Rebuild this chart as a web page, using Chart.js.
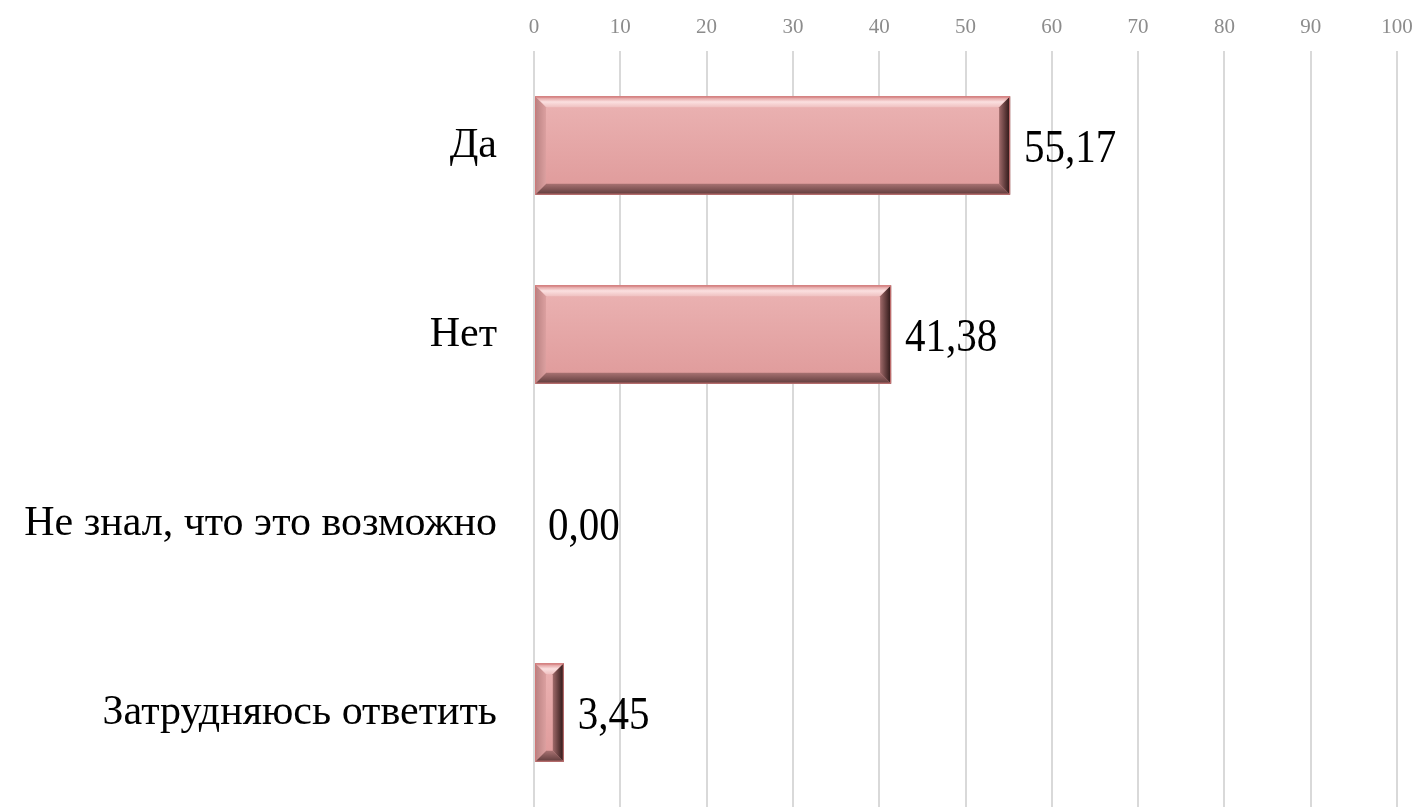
<!DOCTYPE html>
<html>
<head>
<meta charset="utf-8">
<script src="https://cdn.jsdelivr.net/npm/chart.js@4/dist/chart.umd.min.js"></script>
<style>
  html, body { margin: 0; padding: 0; background: #fff; }
  #wrap { width: 1419px; height: 807px; }
</style>
</head>
<body>
<div id="wrap"><canvas id="barChart"></canvas></div>
<script>
// ответы и проценты
var answers = ["Да", "Нет", "Не знал, что это возможно", "Затрудняюсь ответить"];
var percents = [55.17, 41.38, 0.00, 3.45];
var xTicks = [0, 10, 20, 30, 40, 50, 60, 70, 80, 90, 100];

var serif = "'Liberation Serif', 'Times New Roman', serif";

// объемная рамка у столбцов
var bevelPlugin = {
  id: 'bevel',
  afterDatasetsDraw: function (chart) {
    var ctx = chart.ctx;
    var meta = chart.getDatasetMeta(0);
    meta.data.forEach(function (bar) {
      var p = bar.getProps(['x', 'y', 'base', 'height'], true);
      var x0 = Math.min(p.base, p.x), x1 = Math.max(p.base, p.x);
      var y0 = p.y - p.height / 2, y1 = p.y + p.height / 2;
      if (x1 - x0 < 1) return;
      var b = Math.min(11, (x1 - x0) / 2, (y1 - y0) / 2);
      ctx.save();
      var g = ctx.createLinearGradient(0, y0, 0, y1);
      g.addColorStop(0, '#ebb3b3');
      g.addColorStop(1, '#df9a9a');
      ctx.fillStyle = g;
      ctx.fillRect(x0, y0, x1 - x0, y1 - y0);
      function quad(c, pts) {
        ctx.fillStyle = c;
        ctx.beginPath();
        ctx.moveTo(pts[0], pts[1]);
        ctx.lineTo(pts[2], pts[3]);
        ctx.lineTo(pts[4], pts[5]);
        ctx.lineTo(pts[6], pts[7]);
        ctx.closePath();
        ctx.fill();
      }
      var gt = ctx.createLinearGradient(0, y0, 0, y0 + b);
      gt.addColorStop(0, '#d98a8a');
      gt.addColorStop(0.5, '#fbe0e0');
      gt.addColorStop(1, '#efc0c0');
      quad(gt, [x0, y0, x1, y0, x1 - b, y0 + b, x0 + b, y0 + b]);
      var gb = ctx.createLinearGradient(0, y1 - b, 0, y1);
      gb.addColorStop(0, '#a87272');
      gb.addColorStop(1, '#5e3a3a');
      quad(gb, [x0, y1, x1, y1, x1 - b, y1 - b, x0 + b, y1 - b]);
      var gl = ctx.createLinearGradient(x0, 0, x0 + b, 0);
      gl.addColorStop(0, '#b88080');
      gl.addColorStop(1, '#dca0a0');
      quad(gl, [x0, y0, x0 + b, y0 + b, x0 + b, y1 - b, x0, y1]);
      var gr = ctx.createLinearGradient(x1 - b, 0, x1, 0);
      gr.addColorStop(0, '#a06a6a');
      gr.addColorStop(1, '#2a1414');
      quad(gr, [x1, y0, x1 - b, y0 + b, x1 - b, y1 - b, x1, y1]);
      ctx.strokeStyle = '#d07878';
      ctx.lineWidth = 1;
      ctx.strokeRect(x0 + 0.5, y0 + 0.5, x1 - x0 - 1, y1 - y0 - 1);
      ctx.restore();
    });
  }
};

// подписи значений справа от столбцов (чуть вытянуты по вертикали)
var valueLabels = {
  id: 'valueLabels',
  afterDatasetsDraw: function (chart) {
    var ctx = chart.ctx;
    var meta = chart.getDatasetMeta(0);
    var stretch = 1.12;
    meta.data.forEach(function (bar, i) {
      var v = percents[i].toFixed(2).replace('.', ',');
      ctx.save();
      ctx.font = '41px ' + serif;
      ctx.fillStyle = '#000';
      ctx.textAlign = 'left';
      ctx.textBaseline = 'alphabetic';
      ctx.translate(bar.x + 14, bar.y + 16);
      ctx.scale(1, stretch);
      ctx.fillText(v, 0, 0);
      ctx.restore();
    });
  }
};

new Chart(document.getElementById('barChart'), {
  type: 'bar',
  data: {
    labels: answers,
    datasets: [{
      data: percents,
      backgroundColor: '#e4a6a6',
      borderWidth: 0,
      categoryPercentage: 1,
      barPercentage: 0.52
    }]
  },
  options: {
    indexAxis: 'y',
    responsive: true,
    maintainAspectRatio: false,
    animation: false,
    layout: { padding: { left: 0, right: 22, top: 0, bottom: 0 } },
    plugins: {
      legend: { display: false },
      tooltip: { enabled: false }
    },
    scales: {
      x: {
        position: 'top',
        min: 0,
        max: 100,
        afterBuildTicks: function (scale) {
          scale.ticks = xTicks.map(function (v) { return { value: v }; });
        },
        afterFit: function (scale) {
          scale.height = 51;
          scale.paddingLeft = 0;
          scale.paddingRight = 0;
        },
        border: { display: false },
        grid: { color: '#d9d9d9', lineWidth: 2, drawTicks: false },
        ticks: {
          color: '#8c8c8c',
          padding: 11,
          font: { family: serif, size: 21 }
        }
      },
      y: {
        afterFit: function (scale) {
          scale.width = 534;
          scale.paddingTop = 0;
          scale.paddingBottom = 0;
        },
        border: { display: false },
        grid: { display: false },
        ticks: {
          color: '#000',
          padding: 29,
          font: { family: serif, size: 42 }
        }
      }
    }
  },
  plugins: [bevelPlugin, valueLabels]
});
</script>
</body>
</html>
